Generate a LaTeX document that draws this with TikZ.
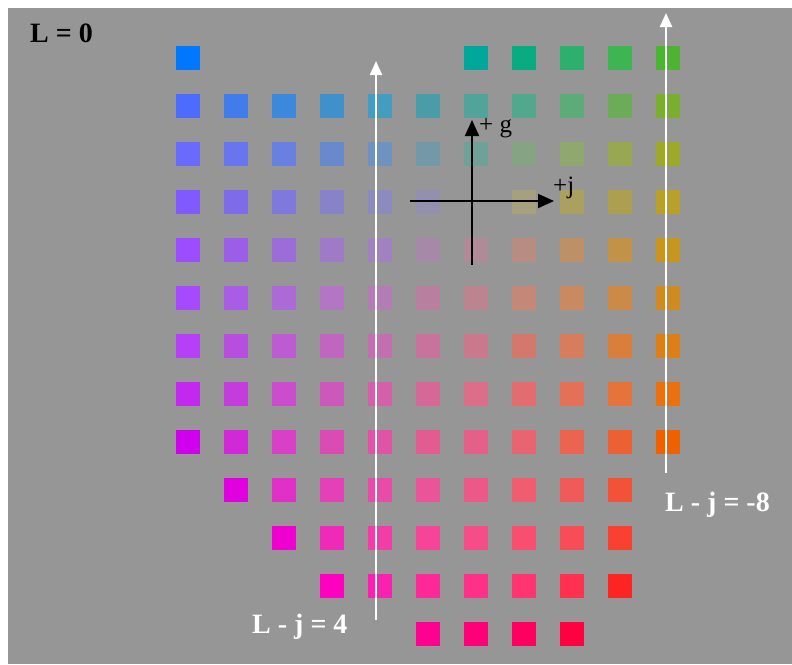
\documentclass[tikz,border=0pt]{standalone}
\usepackage{fontspec}
\setmainfont{Liberation Serif}
\usetikzlibrary{arrows.meta}
\definecolor{bggray}{RGB}{150,150,150}
\tikzset{
  sq/.style={minimum size=24pt, inner sep=0pt, outer sep=0pt, draw=none},
  bigwhite/.style={text=white, font=\fontsize{28}{30}\selectfont\bfseries, inner sep=0pt, anchor=base west},
  axlabel/.style={text=black, font=\fontsize{25}{27}\selectfont, inner sep=0pt, anchor=base west},
  whitearrow/.style={draw=white, line width=2.2pt, -{Triangle[length=14pt,width=12pt]}},
  blackarrow/.style={draw=black, line width=2pt, -{Triangle[length=16pt,width=14pt]}},
}
\begin{document}
\begin{tikzpicture}[x=1pt,y=-1pt]
\useasboundingbox (0,0) rectangle (792,664);
\fill[white] (0,0) rectangle (792,664);
\fill[bggray] (8,8) rectangle (792,664);
\foreach \c/\r/\h in {
 0/0/0077FF, 6/0/00A89C, 7/0/09AC80, 8/0/2DAF6E, 9/0/3DB552, 10/0/4DB332,
 0/1/4D6BFF, 1/1/427CEA, 2/1/3C88DD, 3/1/4090CC, 4/1/449CC0, 5/1/4A9DA8, 6/1/52A39A, 7/1/52A88C, 8/1/5CAB78, 9/1/6CAC58, 10/1/7AAE2E,
 0/2/6A6AFF, 1/2/6775EE, 2/2/6A80E0, 3/2/6A88CC, 4/2/7092C0, 5/2/7399A8, 6/2/70A09A, 7/2/86A484, 8/2/90A86F, 9/2/98A852, 10/2/9EA82A,
 0/3/8059FF, 1/3/7E6BEA, 2/3/8079DD, 3/3/8883C8, 4/3/8C8BBE, 5/3/9290AE, 7/3/A6A07E, 8/3/AAA060, 9/3/ACA050, 10/3/B8A02A,
 0/4/9C4DFF, 1/4/9C5EE8, 2/4/9C6CD8, 3/4/9E7AC8, 4/4/A082C0, 5/4/A689A8, 6/4/B08A96, 7/4/B88C80, 8/4/BD9068, 9/4/C29248, 10/4/C89520,
 0/5/A64AFF, 1/5/A95CE6, 2/5/AC6AD6, 3/5/B276C4, 4/5/B47CB5, 5/5/B8809E, 6/5/BC848F, 7/5/C48878, 8/5/C98A62, 9/5/CC8A48, 10/5/D08A22,
 0/6/B63FF8, 1/6/B84EE0, 2/6/BD5CD2, 3/6/C066C0, 4/6/C36EB0, 5/6/C8739C, 6/6/CA788C, 7/6/D4786E, 8/6/D87C5E, 9/6/DA7E3C, 10/6/DE7E18,
 0/7/C228F0, 1/7/C43CDC, 2/7/CB4CCC, 3/7/CC58BC, 4/7/D460AC, 5/7/D66898, 6/7/DC6E8A, 7/7/E26C70, 8/7/E47058, 9/7/E6723C, 10/7/EA7010,
 0/8/D000EE, 1/8/D02AD8, 2/8/D840C8, 3/8/DA4CB4, 4/8/E054A8, 5/8/E25C92, 6/8/E46088, 7/8/E86470, 8/8/EA6450, 9/8/EC6034, 10/8/F06000,
 1/9/E000E0, 2/9/E030C8, 3/9/E440B8, 4/9/E84CA8, 5/9/EA5498, 6/9/EC5888, 7/9/F05C70, 8/9/F05A58, 9/9/F25238,
 2/10/F000D0, 3/10/F02AB8, 4/10/F43CA8, 5/10/F64498, 6/10/F64C88, 7/10/F84E70, 8/10/F84C58, 9/10/FA4030,
 3/11/FF00C0, 4/11/FA20B0, 5/11/FF2898, 6/11/FF3088, 7/11/FF3470, 8/11/FF3050, 9/11/FF2424,
 5/12/FF0090, 6/12/FF0078, 7/12/FF0060, 8/12/FF0040}
{
  \definecolor{tmpc}{HTML}{\h}
  \node[sq, fill=tmpc] (s\c-\r) at ({188+48*\c},{58+48*\r}) {};
}
% black axes
\coordinate (gbot) at (472,265);
\coordinate (gtop) at (472,120);
\coordinate (jleft) at (410,201);
\coordinate (jright) at (554,201);
\draw[blackarrow] (gbot) -- (gtop);
\draw[blackarrow] (jleft) -- (jright);
\node[axlabel] (lg) at (479,132) {+ g};
\node[axlabel] (lj) at (553,193) {+j};
% white arrows
\coordinate (a1b) at (376,620);
\coordinate (a1t) at (376,61);
\coordinate (a2b) at (666,473);
\coordinate (a2t) at (666,13);
\draw[whitearrow] (a1b) -- (a1t);
\draw[whitearrow] (a2b) -- (a2t);
% labels
\node[bigwhite] (l4) at (252,633) {L - j = 4};
\node[bigwhite] (l8) at (665,511) {L - j = -8};
\node[bigwhite, text=black] (l0) at (30,42) {L = 0};
\end{tikzpicture}
\end{document}
